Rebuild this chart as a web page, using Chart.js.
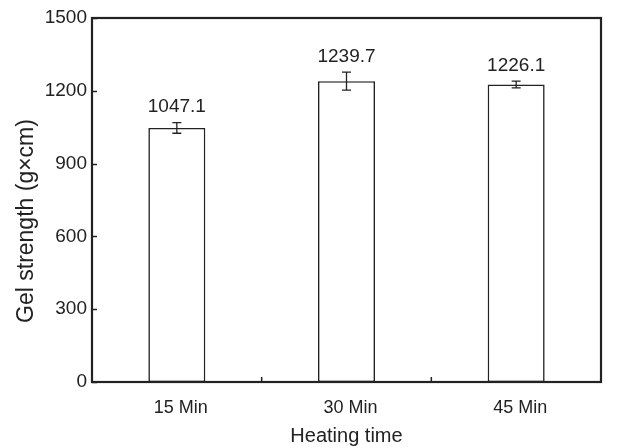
<!DOCTYPE html>
<html>
<head>
<meta charset="utf-8">
<script src="https://cdn.jsdelivr.net/npm/chart.js@4.4.0/dist/chart.umd.min.js"></script>
<style>
  html, body { margin: 0; padding: 0; background: #fff; }
  #wrap { width: 640px; height: 448px; }
</style>
</head>
<body>
<div id="wrap"><canvas id="c" width="640" height="448"></canvas></div>
<script>
const categories = ['15 Min', '30 Min', '45 Min'];
const gelStrength = [1047.1, 1239.7, 1226.1];
const errors = [22, 37, 14];
const valueLabels = ['1047.1', '1239.7', '1226.1'];
const yTicks = [0, 300, 600, 900, 1200, 1500];
const yTitle = 'Gel strength (g×cm)';
const xTitle = 'Heating time';

const FONT = '"Liberation Sans", Arial, Helvetica, sans-serif';
const INK = '#222222';

const framePlugin = {
  id: 'frame',
  afterDatasetsDraw(chart) {
    const ctx = chart.ctx;
    const { left, right, top, bottom } = chart.chartArea;
    const xs = chart.scales.x, ys = chart.scales.y;
    ctx.save();
    const meta = chart.getDatasetMeta(0);
    ctx.strokeStyle = INK;
    ctx.lineWidth = 1.3;
    ctx.fillStyle = INK;
    ctx.font = '19px ' + FONT;
    ctx.textAlign = 'center';
    ctx.textBaseline = 'bottom';
    meta.data.forEach((bar, i) => {
      const x = bar.x;
      const yHi = ys.getPixelForValue(gelStrength[i] + errors[i]);
      const yLo = ys.getPixelForValue(gelStrength[i] - errors[i]);
      ctx.beginPath();
      ctx.moveTo(x, yHi); ctx.lineTo(x, yLo);
      ctx.moveTo(x - 4.5, yHi); ctx.lineTo(x + 4.5, yHi);
      ctx.moveTo(x - 4.5, yLo); ctx.lineTo(x + 4.5, yLo);
      ctx.stroke();
      ctx.fillText(valueLabels[i], x, yHi - 6);
    });
    ctx.lineWidth = 1.5;
    ctx.beginPath();
    yTicks.forEach(v => {
      const y = Math.round(ys.getPixelForValue(v)) + 0.5;
      ctx.moveTo(left, y); ctx.lineTo(left + 5, y);
    });
    for (let i = 0; i < categories.length - 1; i++) {
      const x = (xs.getPixelForValue(i) + xs.getPixelForValue(i + 1)) / 2;
      ctx.moveTo(x, bottom); ctx.lineTo(x, bottom - 5);
    }
    ctx.stroke();
    ctx.lineWidth = 2.2;
    ctx.strokeRect(left, top, right - left, bottom - top);
    // y-axis title (sits a little below the plot's vertical centre, as in the reference)
    ctx.font = '23px ' + FONT;
    ctx.textBaseline = 'alphabetic';
    ctx.textAlign = 'center';
    ctx.translate(ys.left + 33, (top + bottom) / 2 + 21);
    ctx.rotate(-Math.PI / 2);
    ctx.fillText(yTitle, 0, 0);
    ctx.restore();
  }
};

new Chart(document.getElementById('c'), {
  type: 'bar',
  data: {
    labels: categories,
    datasets: [{
      data: gelStrength,
      backgroundColor: '#ffffff',
      borderColor: INK,
      borderWidth: 1.6,
      borderSkipped: false,
      categoryPercentage: 1,
      barPercentage: 0.336
    }]
  },
  options: {
    responsive: false,
    animation: false,
    layout: { padding: { left: 0, right: 39, top: 18, bottom: 0 } },
    plugins: { legend: { display: false }, tooltip: { enabled: false } },
    scales: {
      x: {
        grid: { display: false, drawTicks: false },
        border: { display: false },
        ticks: { color: INK, font: { family: FONT, size: 18 }, padding: 15, labelOffset: 4 },
        title: { display: true, text: xTitle, color: INK, font: { family: FONT, size: 20 }, padding: { top: 0, bottom: 0 } },
        afterFit(scale) { scale.height = 66; }
      },
      y: {
        min: 0, max: 1500,
        afterBuildTicks(scale) { scale.ticks = yTicks.map(v => ({ value: v })); },
        grid: { display: false, drawTicks: false },
        border: { display: false },
        ticks: { color: INK, font: { family: FONT, size: 19 }, padding: 5, callback: v => String(v) },
        title: { display: false },
        afterFit(scale) { scale.width = 92; }
      }
    }
  },
  plugins: [framePlugin]
});
</script>
</body>
</html>
